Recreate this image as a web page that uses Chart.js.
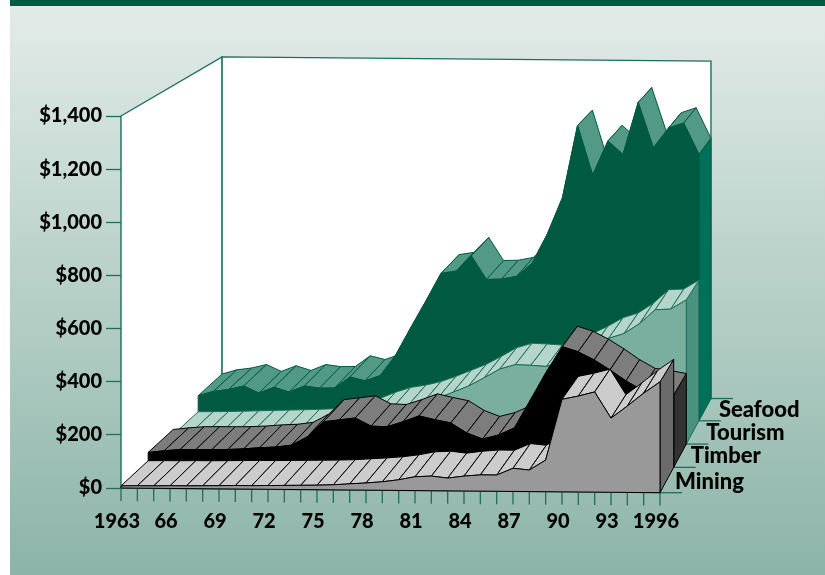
<!DOCTYPE html>
<html>
<head>
<meta charset="utf-8">
<style>
  html, body { margin: 0; padding: 0; background: #fff; }
  canvas { display: block; }
</style>
<script src="https://cdn.jsdelivr.net/npm/chart.js@4/dist/chart.umd.min.js"></script>
</head>
<body>
<canvas id="chart" width="825" height="575"></canvas>
<script>
const years = [1963,1964,1965,1966,1967,1968,1969,1970,1971,1972,1973,1974,1975,1976,1977,1978,1979,
  1980,1981,1982,1983,1984,1985,1986,1987,1988,1989,1990,1991,1992,1993,1994,1995,1996];
const mining = [8,9,9,10,10,11,12,13,13,14,15,16,17,19,23,27,32,40,52,55,48,56,61,61,87,81,119,348,361,377,279,325,374,417];
const timber = [40,47,52,53,53,54,57,62,65,73,106,164,172,180,149,147,167,190,176,164,126,103,119,147,255,364,462,443,412,374,332,298,290,279];
const tourism = [19,20,21,23,25,27,29,31,33,36,50,60,80,105,125,135,150,172,197,222,255,290,308,306,302,320,350,380,415,435,475,530,533,570];
const seafood = [84,102,110,125,97,121,102,127,119,120,165,150,172,254,366,475,588,598,660,565,567,579,632,750,898,1192,992,1130,1077,1288,1104,1185,1206,1080];
const yTicks = [0,200,400,600,800,1000,1200,1400];
const xLabels = {1963:'1963',1966:'66',1969:'69',1972:'72',1975:'75',1978:'78',1981:'81',1984:'84',1987:'87',1990:'90',1993:'93',1996:'1996'};
const seriesNames = ['Mining','Timber','Tourism','Seafood'];

// perspective: every depth layer is the front plane scaled towards this point
const VP_X = 1208, VP_Y = -520, TILT = 0.0087;
const DEPTHS = [1, 0.975, 0.952, 0.929, 0.907];
const AXIS = '#1d6f5a';
const LABEL_DX = [15, 17, 20, 20];

const styles = [
  {face: '#999999', ribbon: '#cccccc', side: '#6b6b6b', edge: '#000000'},
  {face: '#000000', ribbon: '#7d7d7d', side: '#333333', edge: '#000000'},
  {face: '#7aafa0', ribbon: '#b5d5cb', side: '#4a9280', edge: '#1d6f5a'},
  {face: '#005a41', ribbon: '#529a86', side: '#007058', edge: '#005a41'},
];

function project(chart, x, y, s) {
  const x0 = chart.scales.x.getPixelForValue(0);
  return [VP_X + s * (x - VP_X), VP_Y + s * (y + TILT * (x - x0) - VP_Y)];
}

function poly(ctx, pts, fill, stroke, width) {
  ctx.beginPath();
  pts.forEach((p, i) => (i ? ctx.lineTo(p[0], p[1]) : ctx.moveTo(p[0], p[1])));
  ctx.closePath();
  if (fill) { ctx.fillStyle = fill; ctx.fill(); }
  if (stroke) { ctx.strokeStyle = stroke; ctx.lineWidth = width || 1; ctx.stroke(); }
}

const panel = {
  id: 'panel',
  beforeDraw(chart) {
    const ctx = chart.ctx;
    const grad = ctx.createLinearGradient(0, 6, 0, 575);
    grad.addColorStop(0, '#e3ebe8');
    grad.addColorStop(0.35, '#c3d8d1');
    grad.addColorStop(1, '#8cb4a8');
    ctx.fillStyle = grad;
    ctx.fillRect(10, 6, 815, 569);
    ctx.fillStyle = '#005a41';
    ctx.fillRect(10, 0, 815, 6);

    // walls
    const sx = chart.scales.x, sy = chart.scales.y;
    const x0 = sx.getPixelForValue(0), x1 = sx.getPixelForValue(years.length - 1);
    const yb = sy.getPixelForValue(0), yt = sy.getPixelForValue(1400);
    const back = DEPTHS[DEPTHS.length - 1];
    poly(ctx, [project(chart, x0, yt, 1), project(chart, x0, yt, back), project(chart, x0, yb, back), project(chart, x0, yb, 1)], '#fff', AXIS, 1.4);
    poly(ctx, [project(chart, x0, yt, back), project(chart, x1, yt, back), project(chart, x1, yb, back), project(chart, x0, yb, back)], '#fff', AXIS, 1.4);

    // x axis line and year ticks follow the tilted base
    ctx.strokeStyle = AXIS;
    ctx.lineWidth = 1.3;
    years.forEach((yr, i) => {
      const p = project(chart, sx.getPixelForValue(i), yb, 1);
      ctx.beginPath();
      ctx.moveTo(p[0], p[1]);
      ctx.lineTo(p[0], p[1] + 13);
      ctx.stroke();
    });
    const a = project(chart, x0, yb, 1), b = project(chart, x1, yb, 1);
    ctx.beginPath();
    ctx.moveTo(a[0], a[1]);
    ctx.lineTo(b[0], b[1]);
    ctx.stroke();

    // depth ticks on the right
    DEPTHS.forEach((s) => {
      const p = project(chart, x1, yb, s);
      ctx.beginPath();
      ctx.moveTo(p[0], p[1]);
      ctx.lineTo(p[0] + 22, p[1]);
      ctx.stroke();
    });
  },
  beforeDatasetDraw(chart, args) {
    const ctx = chart.ctx;
    const i = args.index, st = styles[i], pts = args.meta.data;
    const yb = chart.scales.y.getPixelForValue(0);
    const s0 = DEPTHS[i], s1 = DEPTHS[i + 1];
    const n = pts.length - 1;
    ctx.save();
    ctx.lineJoin = 'round';

    // right hand end of the layer
    poly(ctx, [project(chart, pts[n].x, yb, s0), project(chart, pts[n].x, yb, s1),
      project(chart, pts[n].x, pts[n].y, s1), project(chart, pts[n].x, pts[n].y, s0)], st.side, st.edge, 1);

    // top surface, one strip per year
    for (let k = 0; k < n; k++) {
      poly(ctx, [project(chart, pts[k].x, pts[k].y, s0), project(chart, pts[k + 1].x, pts[k + 1].y, s0),
        project(chart, pts[k + 1].x, pts[k + 1].y, s1), project(chart, pts[k].x, pts[k].y, s1)], st.ribbon, st.edge, 1);
    }

    // front face
    const face = [project(chart, pts[0].x, yb, s0)];
    pts.forEach((p) => face.push(project(chart, p.x, p.y, s0)));
    face.push(project(chart, pts[n].x, yb, s0));
    poly(ctx, face, st.face, st.edge, 1);
    ctx.restore();
    return false;
  },
  afterDraw(chart) {
    const ctx = chart.ctx;
    const x1 = chart.scales.x.getPixelForValue(years.length - 1);
    const yb = chart.scales.y.getPixelForValue(0);
    ctx.save();
    ctx.font = '900 22px Lato';
    ctx.fillStyle = '#000';
    ctx.textAlign = 'left';
    ctx.textBaseline = 'middle';
    seriesNames.forEach((name, i) => {
      const p = project(chart, x1, yb, DEPTHS[i]);
      ctx.fillText(name, p[0] + LABEL_DX[i], p[1] - 11);
    });
    ctx.restore();
  },
};

new Chart(document.getElementById('chart'), {
  type: 'line',
  data: {
    labels: years,
    datasets: [mining, timber, tourism, seafood].map((values, i) => ({
      label: seriesNames[i],
      data: values,
      clip: false,
      pointRadius: 0,
      borderColor: styles[i].edge,
      backgroundColor: styles[i].face,
    })),
  },
  options: {
    responsive: false,
    animation: false,
    layout: { padding: { left: 0, top: 116, right: 165, bottom: 27 } },
    plugins: { legend: { display: false }, tooltip: { enabled: false } },
    scales: {
      x: {
        afterFit: (s) => { s.height = 60; },
        grid: { display: false },
        border: { display: false },
        ticks: {
          autoSkip: false,
          maxRotation: 0,
          labelOffset: -4,
          padding: 14,
          color: '#000',
          font: { family: 'Lato', weight: '900', size: 20 },
          callback: (v, i) => xLabels[years[i]] || '',
        },
      },
      y: {
        min: 0,
        max: 1400,
        afterFit: (s) => { s.width = 121; },
        afterBuildTicks: (s) => { s.ticks = yTicks.map((value) => ({ value })); },
        grid: { drawOnChartArea: false, tickLength: 15, tickColor: AXIS, tickWidth: 1.3 },
        border: { display: false },
        ticks: {
          padding: 4,
          color: '#000',
          font: { family: 'Lato', weight: '900', size: 20 },
          callback: (v) => '$' + v.toLocaleString('en-US'),
        },
      },
    },
  },
  plugins: [panel],
});
</script>
</body>
</html>
